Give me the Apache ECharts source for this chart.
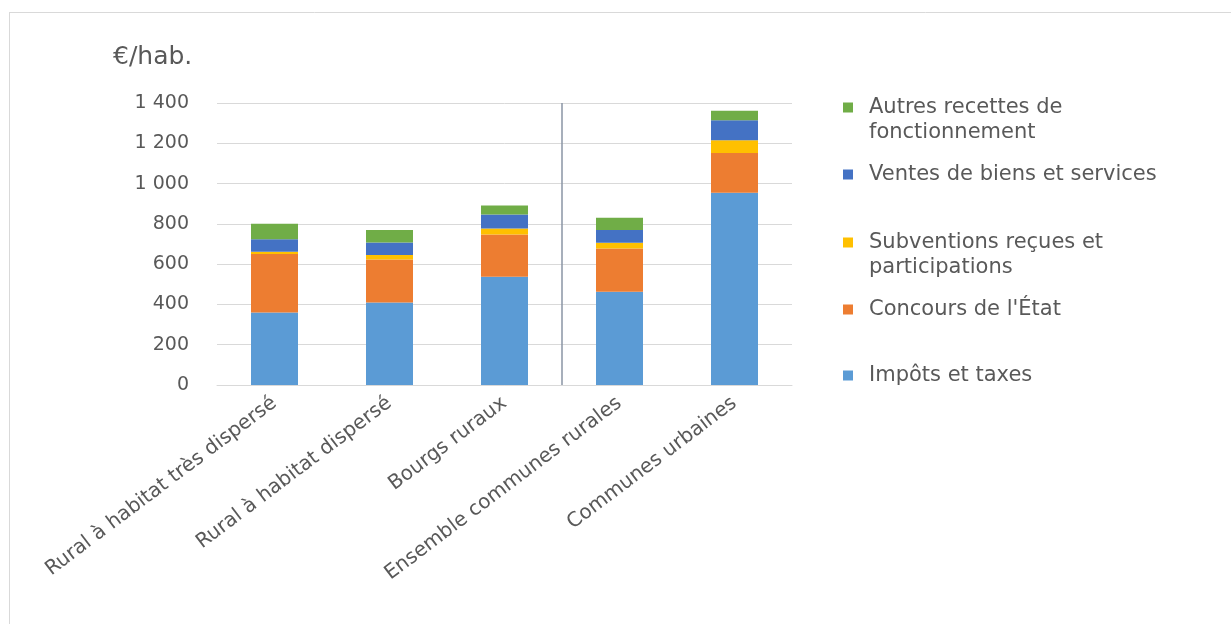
<!DOCTYPE html>
<html><head><meta charset="utf-8">
<script src="https://cdn.jsdelivr.net/npm/echarts@6/dist/echarts.min.js"></script>
<style>html,body{margin:0;padding:0;background:#fff}#c{width:1231px;height:624px}</style>
</head><body><div id="c"></div>
<script>
const categories = ['Rural à habitat très dispersé', 'Rural à habitat dispersé', 'Bourgs ruraux', 'Ensemble communes rurales', 'Communes urbaines'];
const impots = [360, 410, 537, 463, 954];
const concours = [290, 213, 210, 215, 198];
const subventions = [11, 22, 30, 28, 63];
const ventes = [63, 63, 70, 63, 99];
const autres = [76, 61, 44, 61, 47];
const seriesNames = ['Impôts et taxes', "Concours de l'État", 'Subventions reçues et participations', 'Ventes de biens et services', 'Autres recettes de fonctionnement'];
const legendLabels = ['Impôts et taxes', "Concours de l'État", 'Subventions reçues et\nparticipations', 'Ventes de biens et services', 'Autres recettes de\nfonctionnement'];
const yTickLabels = ['0', '200', '400', '600', '800', '1 000', '1 200', '1 400'];
const unitLabel = '€/hab.';
const separatorPosition = [2.5];

const colors = ['#5b9bd5', '#ed7d31', '#ffc000', '#4472c4', '#70ad47'];
const values = [impots, concours, subventions, ventes, autres];
const txt = '#595959';
const font = 'DejaVu Sans';

const legendTops = [363, 297, 205, 162, 70];
const legends = seriesNames.map((n, i) => ({
  data: [n],
  left: 843,
  top: legendTops[i],
  padding: 0,
  itemWidth: 10,
  itemHeight: 10,
  icon: 'rect',
  selectedMode: false,
  formatter: () => (legendLabels[i].indexOf('\n') >= 0 ? ' \n' : '') + legendLabels[i],
  textStyle: { color: txt, fontSize: 21, fontFamily: font, lineHeight: 25, padding: [0, 0, 0, 11] }
}));

const series = seriesNames.map((n, i) => ({
  name: n, type: 'bar', stack: 'total', barWidth: 47,
  itemStyle: { color: colors[i] },
  data: values[i]
}));
series.push({
  name: 'sep', type: 'line', xAxisIndex: 1, data: [], silent: true,
  markLine: {
    symbol: 'none', silent: true, animation: false,
    label: { show: false },
    lineStyle: { color: '#8a95a5', width: 1.5, type: 'solid' },
    data: separatorPosition.map(v => ({ xAxis: v }))
  }
});

const chart = echarts.init(document.getElementById('c'), null, { renderer: 'canvas' });
chart.setOption({
  animation: false,
  backgroundColor: '#fff',
  title: { text: unitLabel, left: 108, top: 40, textStyle: { color: txt, fontSize: 25, fontWeight: 'normal', fontFamily: font } },
  legend: legends,
  grid: { left: 217, right: 439, top: 103, bottom: 239, containLabel: false },
  xAxis: [{
    type: 'category',
    data: categories,
    axisLine: { lineStyle: { color: '#d9d9d9' } },
    axisTick: { show: false },
    splitLine: { show: false },
    axisLabel: { interval: 0, rotate: 37, color: txt, fontSize: 20, fontFamily: font, margin: 16 }
  }, {
    type: 'value', min: -0.5, max: 4.5, show: false
  }],
  yAxis: {
    type: 'value', min: 0, max: 1400, interval: 200,
    axisLine: { show: false }, axisTick: { show: false },
    splitLine: { lineStyle: { color: '#d9d9d9' } },
    axisLabel: { color: txt, fontSize: 19, fontFamily: font, margin: 28, formatter: (v) => yTickLabels[Math.round(v / 200)] }
  },
  series: series,
  graphic: [
    { type: 'line', shape: { x1: 9, y1: 12.5, x2: 1231, y2: 12.5 }, style: { stroke: '#d9d9d9', lineWidth: 1 } },
    { type: 'line', shape: { x1: 9.5, y1: 12, x2: 9.5, y2: 624 }, style: { stroke: '#d9d9d9', lineWidth: 1 } }
  ]
});
</script></body></html>
